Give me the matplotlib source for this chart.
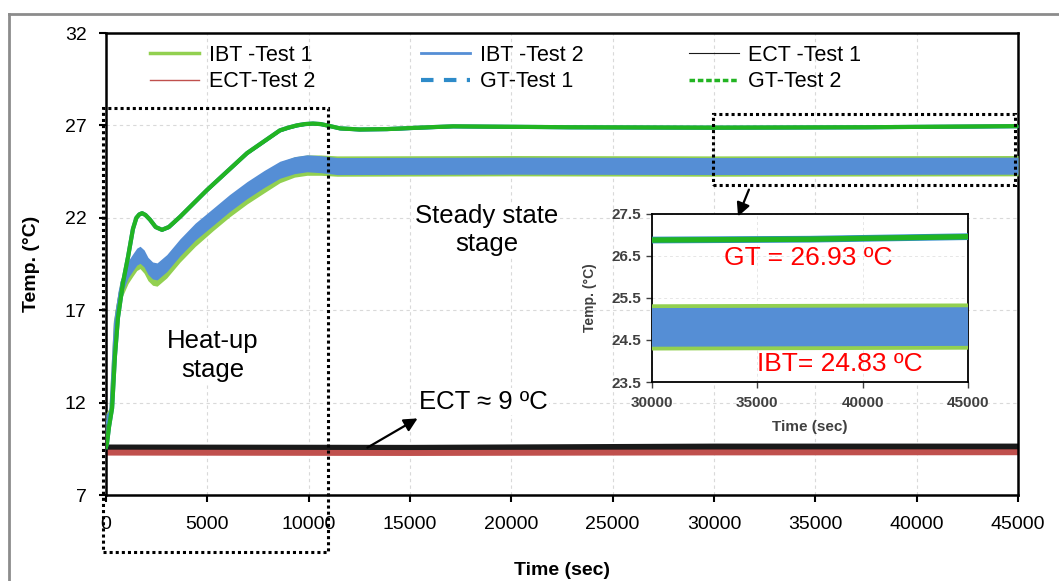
import numpy as np
import matplotlib
matplotlib.use("Agg")
import matplotlib.pyplot as plt
from matplotlib.lines import Line2D
from matplotlib.patches import Rectangle, FancyArrowPatch

plt.rcParams['font.family'] = ['Liberation Sans', 'DejaVu Sans']

W, H = 1059, 581

# ---------------- data ----------------
# time knots (s) and mean temperatures (degC) of each record
t_ibt = [0, 200, 440, 690, 1090, 1330, 1520, 1680, 1880, 2070, 2300, 2520, 3000, 3650, 4400, 5280,
         6100, 6960, 7800, 8580, 9300, 9920, 10600, 11400, 20000, 30000, 45000]
ibt2_mid = [10.9, 11.2, 16.3, 18.1, 19.2, 19.6, 19.9, 20.0, 19.8, 19.4, 19.15, 19.1, 19.55, 20.4, 21.25, 22.05,
            22.8, 23.5, 24.1, 24.6, 24.85, 24.95, 24.9, 24.8, 24.82, 24.8, 24.82]
ibt1_mid = [10.9, 11.2, 16.4, 18.0, 19.0, 19.4, 19.7, 19.8, 19.55, 19.15, 18.9, 18.85, 19.3, 20.15, 21.0, 21.85,
            22.6, 23.3, 23.9, 24.45, 24.75, 24.85, 24.85, 24.8, 24.82, 24.8, 24.82]

t_gt = [0, 50, 150, 300, 440, 590, 840, 1090, 1330, 1500, 1640, 1780, 1950, 2170, 2450, 2760, 3100, 3650,
        4980, 6960, 8580, 9000, 9420, 9800, 10210, 10600, 10900, 11540, 12500, 13860, 15500, 17120,
        22890, 30000, 37500, 45000]
gt1_mid = [9.6, 9.8, 10.7, 11.7, 14.5, 16.6, 18.5, 19.9, 21.4, 22.0, 22.18, 22.25, 22.15, 21.9, 21.5, 21.35,
           21.5, 22.05, 23.5, 25.5, 26.73, 26.88, 27.0, 27.07, 27.1, 27.07, 27.0, 26.84, 26.78, 26.8, 26.88,
           26.95, 26.9, 26.88, 26.9, 26.96]
gt2_mid = [9.6, 9.8, 10.7, 11.7, 14.5, 16.6, 18.5, 19.9, 21.4, 22.0, 22.18, 22.25, 22.15, 21.9, 21.5, 21.35,
           21.5, 22.05, 23.5, 25.5, 26.73, 26.88, 27.0, 27.07, 27.1, 27.07, 27.0, 26.84, 26.78, 26.8, 26.88,
           26.95, 26.9, 26.88, 26.9, 26.96]

t_ect = [0, 15000, 30000, 45000]
ect1_mid = [9.5, 9.48, 9.55, 9.55]
ect2_mid = [9.32, 9.3, 9.33, 9.34]

# scatter of the readings around the mean (half-widths, degC)
ibt1_half = 0.55
ibt2_half = 0.46
gt_half = 0.08
ect1_half = 0.26
ect2_half = 0.16

legend_labels = ["IBT -Test 1", "ECT-Test 2", "IBT -Test 2", "GT-Test 1", "ECT -Test 1", "GT-Test 2"]

c_ibt1 = "#92d050"
c_ibt2 = "#558ed5"
c_gt1 = "#2e8bc9"
c_gt2 = "#22b422"
c_ect1 = "#1a1a1a"
c_ect2 = "#c0504d"


def fx(x):
    return x / W


def fy(y):
    return 1 - y / H


def band(ax, t, mid, half, color, z):
    mid = np.asarray(mid)
    ax.fill_between(t, mid - half, mid + half, color=color, lw=0, zorder=z)


def draw_series(ax, gt_lw):
    band(ax, t_ect, ect1_mid, ect1_half, c_ect1, 2)
    band(ax, t_ect, ect2_mid, ect2_half, c_ect2, 2.2)
    band(ax, t_ibt, ibt1_mid, ibt1_half, c_ibt1, 3)
    ax.plot(t_ibt, ibt1_mid, color=c_ibt1, lw=1.5, zorder=3.05)
    band(ax, t_ibt, ibt2_mid, ibt2_half, c_ibt2, 3.2)
    ax.plot(t_ibt, ibt2_mid, color=c_ibt2, lw=1.5, zorder=3.25)
    ax.plot(t_gt, gt1_mid, color=c_gt1, lw=gt_lw, zorder=4)
    band(ax, t_gt, gt1_mid, gt_half, c_gt1, 4.05)
    ax.plot(t_gt, gt2_mid, color=c_gt2, lw=gt_lw, zorder=4.3)
    band(ax, t_gt, gt2_mid, gt_half * 0.8, c_gt2, 4.35)


fig = plt.figure(figsize=(W / 100, H / 100), dpi=100)
fig.patch.set_facecolor("white")

# ---------------- main axes ----------------
ax = fig.add_axes([fx(106), fy(495), (1018 - 106) / W, (495 - 33) / H])
draw_series(ax, 3.0)
ax.set_xlim(0, 45000)
ax.set_ylim(7, 32)
ax.set_xticks(np.arange(0, 45001, 5000))
ax.set_yticks([7, 12, 17, 22, 27, 32])
ax.grid(True, color="#d9d9d9", linestyle=(0, (3, 3)), lw=0.8, zorder=0)
ax.set_axisbelow(True)
for s in ax.spines.values():
    s.set_linewidth(1.8)
    s.set_color("black")
ax.tick_params(direction="out", length=5, width=1.5, labelsize=14, colors="black")
ax.tick_params(axis="y", pad=9)
ax.tick_params(axis="x", pad=10)
ax.set_xlabel("Time (sec)", fontsize=14, fontweight="bold", labelpad=21)
ax.set_ylabel("Temp. (°C)", fontsize=14, fontweight="bold", labelpad=18)

handles = [
    Line2D([], [], color=c_ibt1, lw=2.5),
    Line2D([], [], color=c_ect2, lw=1.0),
    Line2D([], [], color=c_ibt2, lw=2.0),
    Line2D([], [], color=c_gt1, lw=3.0, linestyle=(0, (3, 2.5))),
    Line2D([], [], color=c_ect1, lw=0.8),
    Line2D([], [], color=c_gt2, lw=2.5, linestyle=(0, (1.6, 0.8))),
]
ax.legend(handles, legend_labels, ncol=3, frameon=False, fontsize=15.5,
          loc="upper left", bbox_to_anchor=(fx(139), fy(34)), bbox_transform=fig.transFigure,
          borderpad=0, handlelength=2.3, handletextpad=0.45, columnspacing=4.9, labelspacing=0.25)

txt_box = dict(facecolor="white", edgecolor="none", pad=1)
ax.text(18800, 21.35, "Steady state\nstage", ha="center", va="center", fontsize=18.5,
        linespacing=1.2, bbox=txt_box, zorder=6)
ax.text(5250, 14.55, "Heat-up\nstage", ha="center", va="center", fontsize=18.5,
        linespacing=1.25, bbox=txt_box, zorder=6)
ax.text(18600, 12.05, "ECT ≈ 9 ºC", ha="center", va="center", fontsize=18.5, bbox=txt_box, zorder=6)

# ---------------- inset ----------------
axi = fig.add_axes([fx(652), fy(382), (968 - 652) / W, (382 - 214) / H])
draw_series(axi, 2.0)
axi.set_xlim(30000, 45000)
axi.set_ylim(23.5, 27.5)
axi.set_xticks([30000, 35000, 40000, 45000])
axi.set_yticks([23.5, 24.5, 25.5, 26.5, 27.5])
axi.set_yticklabels(["23.5", "24.5", "25.5", "26.5", "27.5"])
axi.grid(True, color="#e6e6e6", linestyle=(0, (3, 3)), lw=0.7)
axi.set_axisbelow(True)
for s in axi.spines.values():
    s.set_linewidth(1.3)
    s.set_color("black")
axi.tick_params(direction="out", length=4, width=1, labelsize=11, colors="#404040")
axi.tick_params(axis="x", pad=6)
axi.tick_params(axis="y", pad=4)
for lab in axi.get_xticklabels() + axi.get_yticklabels():
    lab.set_fontweight("bold")
axi.set_xlabel("Time (sec)", fontsize=11, fontweight="bold", color="#404040", labelpad=7)
axi.set_ylabel("Temp. (°C)", fontsize=10, fontweight="bold", color="#404040", labelpad=10)
axi.text(37400, 26.45, "GT = 26.93 ºC", ha="center", va="center", color="red", fontsize=19)
axi.text(38900, 23.93, "IBT= 24.83 ºC", ha="center", va="center", color="red", fontsize=19)

# ---------------- figure-level decorations ----------------
frame_c = "#8c8c8c"
fig.add_artist(Line2D([fx(9), 1.0], [fy(14), fy(14)], color=frame_c, lw=2, transform=fig.transFigure))
fig.add_artist(Line2D([fx(9), fx(9)], [fy(14), 0.0], color=frame_c, lw=2, transform=fig.transFigure))

dot = (0, (1, 1))
fig.add_artist(Rectangle((fx(103), fy(552)), (328 - 103) / W, (552 - 108) / H, fill=False,
                         edgecolor="black", lw=2.2, linestyle=dot, transform=fig.transFigure, zorder=5))
fig.add_artist(Rectangle((fx(713), fy(185)), (1015 - 713) / W, (185 - 114) / H, fill=False,
                         edgecolor="black", lw=2.2, linestyle=dot, transform=fig.transFigure, zorder=5))

fig.add_artist(FancyArrowPatch((fx(750), fy(187)), (fx(737), fy(219)), transform=fig.transFigure,
                               arrowstyle="-|>", mutation_scale=20, lw=1.6, color="black", zorder=6))
fig.add_artist(FancyArrowPatch((fx(365), fy(449)), (fx(420), fy(417)), transform=fig.transFigure,
                               arrowstyle="-|>", mutation_scale=20, lw=1.6, color="black", zorder=6))

fig.savefig("out.png", dpi=100, facecolor="white")
